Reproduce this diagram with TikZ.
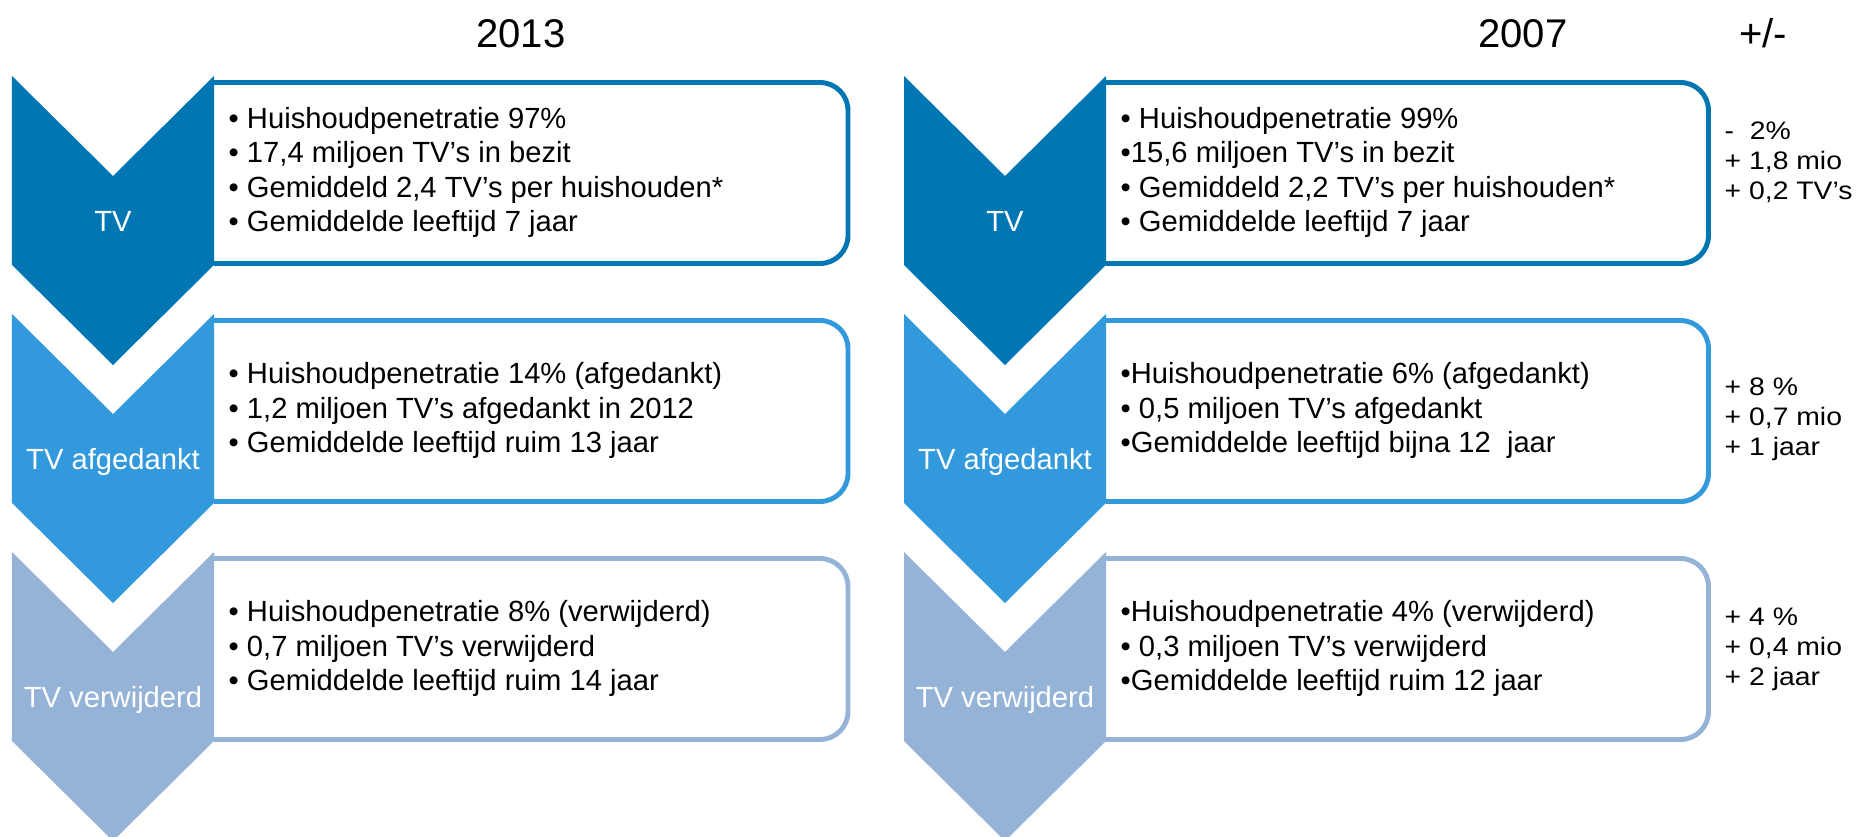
\documentclass[tikz,border=0pt]{standalone}
\usepackage{fontspec}
\setmainfont{Liberation Sans}
\newfontfamily\difffont[FakeStretch=1.12]{Liberation Sans}

\definecolor{tvdark}{RGB}{0,119,179}
\definecolor{tvmid}{RGB}{51,153,221}
\definecolor{tvlight}{RGB}{149,179,215}

\begin{document}
\begin{tikzpicture}[
	chev/.style={fill=#1, draw=none},
	panel/.style={draw=#1, line width=1.4pt, rounded corners=0.28cm},
	lab/.style={text=white, anchor=base, font=\fontsize{8.3}{9.8}\selectfont},
	info/.style={anchor=west, align=left, inner sep=0pt, font=\fontsize{8.3}{9.8}\selectfont},
	diff/.style={anchor=west, align=left, inner sep=0pt, font=\difffont\fontsize{7.2}{8.5}\selectfont},
	year/.style={anchor=base, font=\fontsize{11.4}{13}\selectfont}
]
			\useasboundingbox (0,0) rectangle (18.58,8.36);

			% panels behind the chevrons
			\foreach \xl/\xR/\c in {0.12/8.48/L, 9.04/17.085/R} {
				\foreach \yt/\col/\r in {7.60/tvdark/a, 5.22/tvmid/b, 2.84/tvlight/c} {
					\pgfmathsetmacro{\xr}{\xl+2.02}
					\draw[panel=\col] (\xr,\yt-0.065) -| (\xR,\yt-1.875) -- (\xr,\yt-1.875);
				}
			}

			% chevrons
			\foreach \xl/\c in {0.12/L, 9.04/R} {
				\foreach \yt/\col/\lab/\r in {7.60/tvdark/TV/a, 5.22/tvmid/TV afgedankt/b, 2.84/tvlight/TV verwijderd/c} {
					\pgfmathsetmacro{\xr}{\xl+2.02}
					\pgfmathsetmacro{\xc}{\xl+1.01}
					\fill[chev=\col] (\xl,\yt) -- (\xc,\yt-1.00) -- (\xr,\yt) -- (\xr,\yt-1.89) -- (\xc,\yt-2.89) -- (\xl,\yt-1.89) -- cycle;
					\node[lab] (lab-\c\r) at (\xc,\yt-1.55) {\lab};
				}
			}

			% years
			\node[year] (y2013) at (5.21,7.89) {2013};
			\node[year] (y2007) at (15.23,7.89) {2007};
			\node[year] (yplusmin) at (17.63,7.89) {+/-};

			% 2013
			\node[info] (info-La) at (2.28,6.635) {• Huishoudpenetratie 97\%\\• 17,4 miljoen TV’s in bezit\\• Gemiddeld 2,4 TV’s per huishouden*\\• Gemiddelde leeftijd 7 jaar};
			\node[info] (info-Lb) at (2.28,4.255) {• Huishoudpenetratie 14\% (afgedankt)\\• 1,2 miljoen TV’s afgedankt in 2012\\• Gemiddelde leeftijd ruim 13 jaar};
			\node[info] (info-Lc) at (2.28,1.875) {• Huishoudpenetratie 8\% (verwijderd)\\• 0,7 miljoen TV’s verwijderd\\• Gemiddelde leeftijd ruim 14 jaar};

			% 2007
			\node[info] (info-Ra) at (11.20,6.635) {• Huishoudpenetratie 99\%\\•15,6 miljoen TV’s in bezit\\• Gemiddeld 2,2 TV’s per huishouden*\\• Gemiddelde leeftijd 7 jaar};
			\node[info] (info-Rb) at (11.20,4.255) {•Huishoudpenetratie 6\% (afgedankt)\\• 0,5 miljoen TV’s afgedankt\\•Gemiddelde leeftijd bijna 12\ \ jaar};
			\node[info] (info-Rc) at (11.20,1.875) {•Huishoudpenetratie 4\% (verwijderd)\\• 0,3 miljoen TV’s verwijderd\\•Gemiddelde leeftijd ruim 12 jaar};

			% +/-
			\node[diff] (diff-a) at (17.24,6.74) {-\ \ 2\%\\+ 1,8 mio\\+ 0,2 TV’s};
			\node[diff] (diff-b) at (17.24,4.17) {+ 8 \%\\+ 0,7 mio\\+ 1 jaar};
			\node[diff] (diff-c) at (17.24,1.87) {+ 4 \%\\+ 0,4 mio\\+ 2 jaar};
		\end{tikzpicture}
\end{document}
